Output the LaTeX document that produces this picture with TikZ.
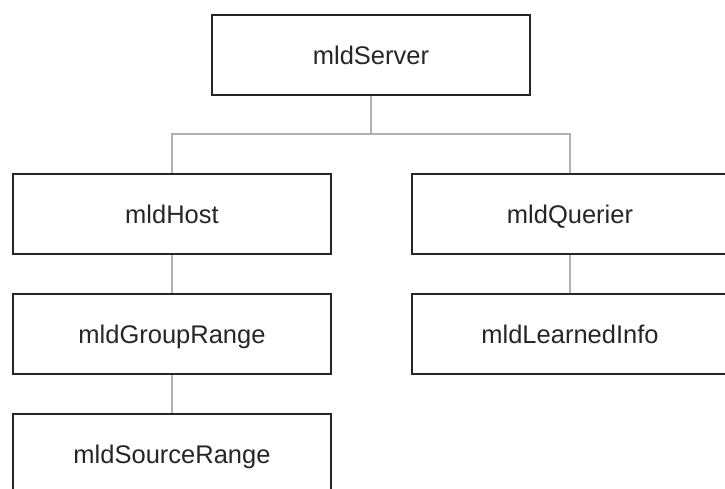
\documentclass[tikz,border=0pt]{standalone}
\usepackage{fontspec}
\setmainfont{Liberation Sans}
\begin{document}
\begin{tikzpicture}[x=1pt,y=-1pt,
  box/.style={draw=black!85, line width=2pt, fill=white, minimum width=318pt, minimum height=80pt, inner sep=0pt, text height=22.5pt, text depth=3.5pt, text=black!85, font=\fontsize{25.5}{30}\selectfont},
  conn/.style={draw=black!30, line width=1.2pt}]
\clip (0,0) rectangle (725,489);
\fill[white] (0,0) rectangle (725,489);
\node[box] (srv) at (371,55.5) {mldServer};
\node[box] (host) at (172,214) {mldHost};
\node[box, minimum width=316pt] (quer) at (570,214) {mldQuerier};
\node[box] (grp) at (172,334) {mldGroupRange};
\node[box, minimum width=316pt] (learn) at (570,334) {mldLearnedInfo};
\node[box] (src) at (172,454) {mldSourceRange};
\coordinate (bus) at (0,134);
\draw[conn] (srv.south) -- (srv.south |- bus) -| (host.north);
\draw[conn] (srv.south |- bus) -| (quer.north);
\draw[conn] (host) -- (grp);
\draw[conn] (grp) -- (src);
\draw[conn] (quer) -- (learn);
\end{tikzpicture}
\end{document}
